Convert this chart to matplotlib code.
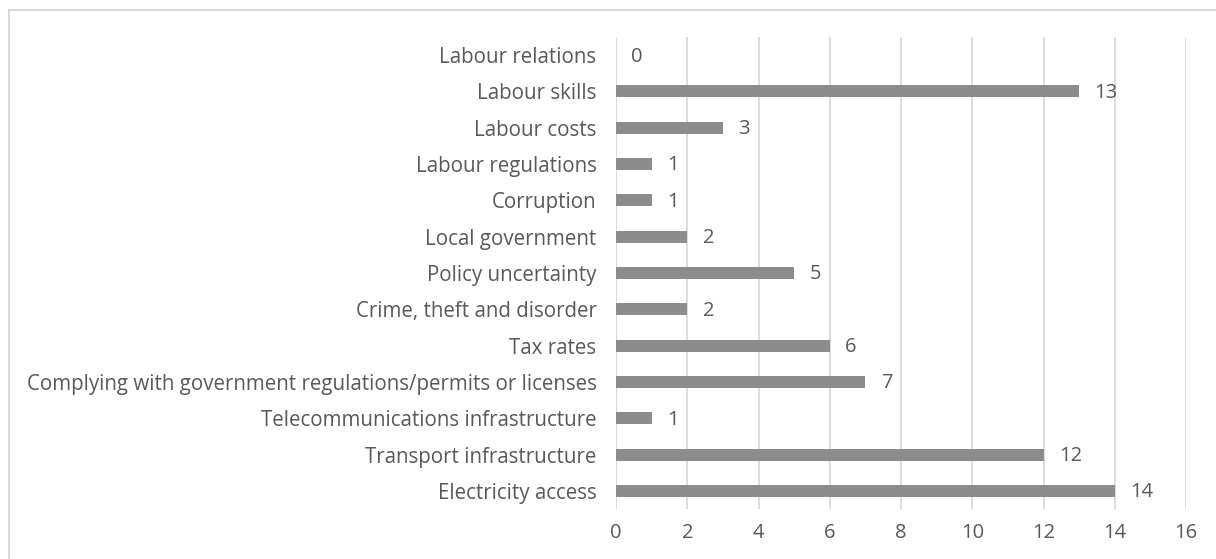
import matplotlib.pyplot as plt
from matplotlib.patches import Rectangle

# Constraints, listed bottom to top
categories = [
    'Electricity access',
    'Transport infrastructure',
    'Telecommunications infrastructure',
    'Complying with government regulations/permits or licenses',
    'Tax rates',
    'Crime, theft and disorder',
    'Policy uncertainty',
    'Local government',
    'Corruption',
    'Labour regulations',
    'Labour costs',
    'Labour skills',
    'Labour relations',
]
counts = [14, 12, 1, 7, 6, 2, 5, 2, 1, 1, 3, 13, 0]
xticks = [0, 2, 4, 6, 8, 10, 12, 14, 16]

text_color = '#595959'
plt.rcParams['font.family'] = ['Open Sans', 'DejaVu Sans']

fig = plt.figure(figsize=(12.16, 5.59), dpi=100)
ax = fig.add_axes([0.5066, 0.0894, 0.4688, 0.8444])

y = range(len(categories))
bars = ax.barh(y, counts, height=0.33, color='#8c8c8c', zorder=3)

for bar, c in zip(bars, counts):
    ax.annotate(str(c), (bar.get_width(), bar.get_y() + bar.get_height() / 2),
                xytext=(11, -1), textcoords='offset points',
                ha='left', va='center', fontsize=14.5, color=text_color)

ax.set_xlim(0, 16)
ax.set_ylim(-0.5, len(categories) - 0.5)
ax.set_xticks(xticks)
ax.set_yticks(list(y))
ax.set_yticklabels(categories)
ax.tick_params(axis='both', length=0, labelsize=14.5, labelcolor=text_color)
ax.tick_params(axis='x', labelsize=14.5, pad=10)
ax.tick_params(axis='y', labelsize=14.8, pad=14)
ax.grid(axis='x', color='#d9d9d9', linewidth=1.3, zorder=0)
for s in ax.spines.values():
    s.set_visible(False)

# light frame around the chart area
fig.patches.append(Rectangle((9 / 1216, -0.1), 1.2, 1 - 10 / 559 + 0.1,
                             transform=fig.transFigure, fill=False,
                             edgecolor='#d9d9d9', linewidth=1.5))

fig.savefig('out.png', dpi=100)
